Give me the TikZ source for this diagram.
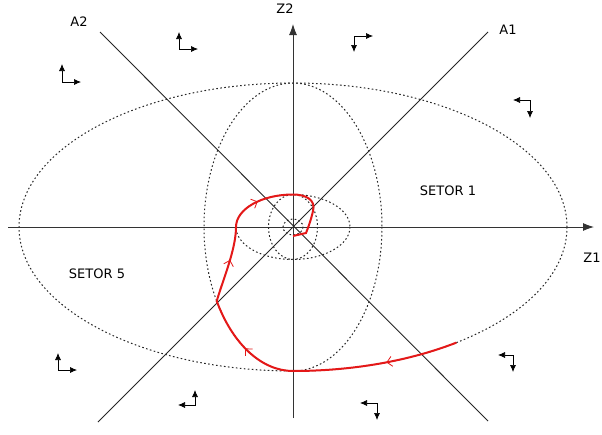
\documentclass[tikz,border=0pt]{standalone}
\usepackage{fontspec}
\setmainfont{DejaVu Sans}
\usetikzlibrary{arrows.meta,decorations.markings}
\definecolor{trajred}{RGB}{228,24,24}

\begin{document}
\begin{tikzpicture}[x=1pt,y=-1pt]
\tikzstyle{axis}=[draw=black!80, line width=0.9pt, -{Latex[length=11pt,width=8pt]}]
\tikzstyle{diag}=[draw=black!85, line width=0.9pt]
\tikzstyle{orbit}=[draw=black!85, line width=1pt, dash pattern=on 1.6pt off 2.4pt]
\tikzstyle{turn}=[draw=black, line width=0.7pt, {Latex[length=7pt,width=6pt]}-{Latex[length=7pt,width=6pt]}]
\tikzstyle{lbl}=[font=\fontsize{13}{15}\selectfont, inner sep=0pt]
\tikzstyle{traj}=[draw=trajred, line width=2pt, postaction={decorate},
  decoration={markings,
    mark=at position 0.148 with {\arrow[line width=0.8pt]{Straight Barb[length=5pt,width=10pt]}},
    mark=at position 0.449 with {\arrow[line width=0.8pt]{Straight Barb[length=5pt,width=10pt]}},
    mark=at position 0.65 with {\arrow[line width=0.8pt]{Straight Barb[length=5pt,width=10pt]}},
    mark=at position 0.79 with {\arrow[line width=0.8pt]{Straight Barb[length=5pt,width=10pt]}}}]

\useasboundingbox (0,0) rectangle (602,434);
\fill[white] (0,0) rectangle (602,434);

% centre and axis ends
\coordinate (O) at (293,227);
\coordinate (z1a) at (8,227);
\coordinate (z1b) at (594,227);
\coordinate (z2a) at (293,418);
\coordinate (z2b) at (293,24);
\coordinate (a1a) at (98,422);
\coordinate (a1b) at (488,32);
\coordinate (a2a) at (100,32);
\coordinate (a2b) at (488,421);

% dotted level curves
\draw[orbit] (O) ellipse [x radius=274, y radius=144];
\draw[orbit] (O) ellipse [x radius=89, y radius=144];
\draw[orbit] (O) ellipse [x radius=57, y radius=32.5];
\draw[orbit] (O) ellipse [x radius=24.5, y radius=32.5];
\draw[orbit] (O) ellipse [x radius=10, y radius=8];

% axes
\draw[axis] (z1a) -- (z1b);
\draw[axis] (z2a) -- (z2b);
\draw[diag] (a1a) -- (a1b);
\draw[diag] (a2a) -- (a2b);

\node[lbl] (lz1) at (592,258) {Z1};
\node[lbl] (lz2) at (285,9) {Z2};
\node[lbl] (la1) at (508,30) {A1};
\node[lbl] (la2) at (79,22) {A2};
\node[lbl] (s1) at (448,191) {SETOR 1};
\node[lbl] (s5) at (97,274) {SETOR 5};

% little turning marks
\foreach \x/\y/\h/\v in {62/82/19/-18, 179/49/19/-17, 354/36/19/16, 530/100/-17/18,
                        58/370/19/-17, 195/405/-17/-15, 513/355/-15/17, 377/403/-17/17}
  \draw[turn] (\x+\h,\y) -- (\x,\y) -- (\x,\y+\v);

% trajectory
\draw[traj] (456.4,342.6) arc [start angle=53.4, end angle=90, x radius=274, y radius=144]
  arc [start angle=90, end angle=149, x radius=89, y radius=144]
  .. controls (222,282) and (236,250) .. (236,227)
  arc [start angle=180, end angle=270, x radius=57, y radius=32.5]
  .. controls (306,194.5) and (316,200) .. (313,211)
  .. controls (311,220) and (308,228) .. (306,233) -- (293,236);
\end{tikzpicture}
\end{document}
